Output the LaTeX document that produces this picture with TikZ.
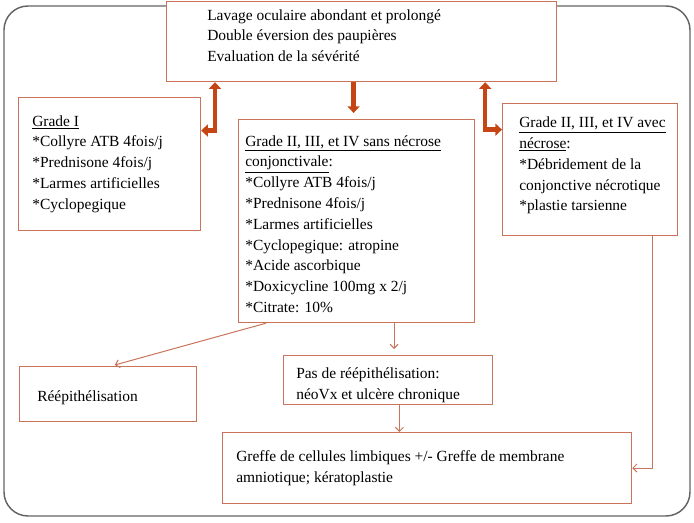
\documentclass[tikz,border=0pt]{standalone}
\usepackage{fontspec}
\setmainfont{Liberation Serif}
\usetikzlibrary{arrows.meta,positioning,calc}
\definecolor{boxline}{RGB}{200,115,90}
\definecolor{bigarr}{RGB}{197,70,20}
\definecolor{frameline}{RGB}{100,100,100}
\tikzset{box/.style={draw=boxline, line width=0.9pt, fill=white, anchor=north west, inner sep=0pt}}
\tikzset{txt/.style={inner sep=0pt, anchor=west, align=left, font=\fontsize{11.6}{15.6}\selectfont}}
\tikzset{fleche/.style={draw=boxline, line width=0.75pt, -{Straight Barb[length=3pt,width=6pt]}}}
\tikzset{grosse/.style={draw=bigarr, line width=3.4pt, line join=miter}}
\tikzset{bigtip/.tip={Triangle[length=5pt,width=9pt]}}

\begin{document}
\begin{tikzpicture}[x=0.75pt,y=-0.75pt]
\useasboundingbox (0,0) rectangle (694,523);
% cadre
\draw[frameline, line width=1.1pt, rounded corners=18pt] (4,6) rectangle (690,516);

% boites
\node[box, minimum width=292.5pt, minimum height=60pt] (top) at (166,1) {};
\node[box, minimum width=136.5pt, minimum height=99.75pt] (g1) at (18,97) {};
\node[box, minimum width=177pt, minimum height=152.25pt] (mid) at (238,119) {};
\node[box, minimum width=131.25pt, minimum height=99pt] (gr) at (502,103) {};
\node[box, minimum width=132.75pt, minimum height=41.25pt] (ree) at (19,366) {};
\node[box, minimum width=156.75pt, minimum height=36.75pt] (pas) at (283,355) {};
\node[box, minimum width=306.75pt, minimum height=53.25pt] (gref) at (222,432) {};

% textes
\node[txt] (ttop) at ([xshift=30.75pt,yshift=4.5pt]top.west) {Lavage oculaire abondant et prolongé\\Double éversion des paupières\\Evaluation de la sévérité};
\node[txt] (tg1) at ([xshift=10.5pt]g1.west) {\underline{Grade I}\\{}*Collyre ATB 4fois/j\\{}*Prednisone 4fois/j\\{}*Larmes artificielles\\{}*Cyclopegique};
\node[txt] (tmid) at ([xshift=5.25pt,yshift=-2.25pt]mid.west) {\underline{Grade II, III, et IV sans nécrose}\\\underline{conjonctivale}:\\{}*Collyre ATB 4fois/j\\{}*Prednisone 4fois/j\\{}*Larmes artificielles\\{}*Cyclopegique: atropine\\{}*Acide ascorbique\\{}*Doxicycline 100mg x 2/j\\{}*Citrate: 10\%};
\node[txt] (tgr) at ([xshift=12.75pt,yshift=3pt]gr.west) {\underline{Grade II, III, et IV avec}\\\underline{nécrose}:\\{}*Débridement de la\\conjonctive nécrotique\\{}*plastie tarsienne};
\node[txt] (tree) at ([xshift=13.5pt,yshift=-2.6pt]ree.west) {Réépithélisation};
\node[txt] (tpas) at ([xshift=9.75pt,yshift=-4pt]pas.west) {Pas de réépithélisation:\\néoVx et ulcère chronique};
\node[txt] (tgref) at ([xshift=10.5pt]gref.west) {Greffe de cellules limbiques +/- Greffe de membrane\\amniotique; kératoplastie};

% grosses fleches
\draw[grosse, bigtip-bigtip] ([xshift=36.75pt]top.south west) |- ($(g1.north east)!.25!(g1.south east)$);
\draw[grosse, -bigtip] ([xshift=-2.25pt]top.south -| mid.north) -- ([xshift=-2.25pt,yshift=4.5pt]mid.north);
\draw[grosse, bigtip-bigtip] ([xshift=-54pt]top.south east) |- ($(gr.north west)!.2!(gr.south west)$);

% fleches fines
\draw[fleche] ([xshift=21pt]mid.south west) -- ([xshift=5pt,yshift=0.75pt]ree.north);
\draw[fleche] ([xshift=4.5pt]pas.north |- mid.south) -- ([xshift=4.5pt,yshift=4.5pt]pas.north);
\draw[fleche] ([xshift=8.5pt]pas.south) -- ([xshift=8.5pt]pas.south |- gref.north);
\draw[fleche] ([xshift=47pt]gr.south) |- (gref.east);
\end{tikzpicture}
\end{document}
